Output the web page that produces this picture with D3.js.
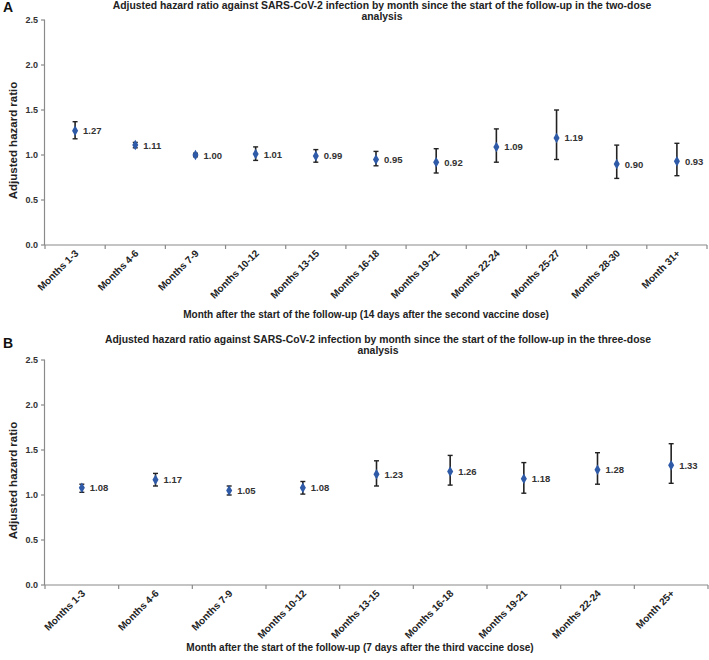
<!DOCTYPE html>
<html><head><meta charset="utf-8">
<script src="https://cdn.jsdelivr.net/npm/d3@7/dist/d3.min.js"></script>
<style>body{margin:0;background:#fff}svg{display:block}text{font-family:"Liberation Sans",Arial,sans-serif}</style>
</head><body>
<svg id="c" width="709" height="660"></svg>
<script>
// Panel A data (two-dose analysis)
const catsA = ["Months 1-3","Months 4-6","Months 7-9","Months 10-12","Months 13-15","Months 16-18","Months 19-21","Months 22-24","Months 25-27","Months 28-30","Month 31+"];
const hrA   = [1.27,1.11,1.00,1.01,0.99,0.95,0.92,1.09,1.19,0.90,0.93];
const loA   = [1.18,1.08,0.98,0.94,0.92,0.88,0.80,0.92,0.95,0.74,0.77];
const hiA   = [1.37,1.14,1.02,1.09,1.06,1.04,1.07,1.29,1.50,1.11,1.13];
// Panel B data (three-dose analysis)
const catsB = ["Months 1-3","Months 4-6","Months 7-9","Months 10-12","Months 13-15","Months 16-18","Months 19-21","Months 22-24","Month 25+"];
const hrB   = [1.08,1.17,1.05,1.08,1.23,1.26,1.18,1.28,1.33];
const loB   = [1.03,1.10,1.00,1.01,1.10,1.11,1.02,1.12,1.13];
const hiB   = [1.12,1.24,1.10,1.15,1.38,1.44,1.36,1.47,1.57];
const yTicks = [0,0.5,1.0,1.5,2.0,2.5];

const svg = d3.select("#c");

function panel(opt){
  const {letter, title1, title2, xTitle, cats, hr, lo, hi, top, left, right, bottom, titleY, letterY, xTitleY, titleX, xTitleX} = opt;
  const g = svg.append("g");
  const x = d3.scaleBand().domain(cats).range([left,right]).padding(0);
  const y = d3.scaleLinear().domain([0,2.5]).range([bottom,top]);
  const axisCol = "#8a8a8a";

  g.append("text").attr("x",3).attr("y",letterY).attr("font-size",14).attr("font-weight","bold").attr("fill","#111").text(letter);
  g.append("text").attr("x",titleX).attr("y",titleY).attr("text-anchor","middle").attr("font-size",10.4).attr("font-weight","bold").attr("fill","#222").text(title1);
  g.append("text").attr("x",titleX).attr("y",titleY+11).attr("text-anchor","middle").attr("font-size",10.4).attr("font-weight","bold").attr("fill","#222").text(title2);

  // y axis
  g.append("line").attr("x1",left-0.5).attr("x2",left-0.5).attr("y1",y(2.5)).attr("y2",y(0)).attr("stroke",axisCol).attr("stroke-width",1.2);
  yTicks.forEach(t=>{
    g.append("line").attr("x1",left-4).attr("x2",left).attr("y1",y(t)).attr("y2",y(t)).attr("stroke",axisCol).attr("stroke-width",1.2);
    g.append("text").attr("x",left-7).attr("y",y(t)+3).attr("text-anchor","end").attr("font-size",9).attr("font-weight","bold").attr("fill","#333").text(t.toFixed(1));
  });
  g.append("text").attr("transform",`translate(17,${(y(0)+y(2.5))/2+8}) rotate(-90)`).attr("text-anchor","middle").attr("font-size",11.5).attr("font-weight","bold").attr("fill","#222").text("Adjusted hazard ratio");

  // x axis
  g.append("line").attr("x1",left).attr("x2",right).attr("y1",y(0)).attr("y2",y(0)).attr("stroke",axisCol).attr("stroke-width",1.2);
  const bounds = cats.map(c=>x(c)).concat([x.range()[1]]);
  bounds.forEach(b=>{
    g.append("line").attr("x1",b).attr("x2",b).attr("y1",y(0)).attr("y2",y(0)+4).attr("stroke",axisCol).attr("stroke-width",1.2);
  });
  cats.forEach(c=>{
    const cx = x(c)+x.bandwidth()/2;
    g.append("text").attr("transform",`translate(${cx+4},${y(0)+9}) rotate(-45)`).attr("text-anchor","end").attr("font-size",10).attr("font-weight","bold").attr("fill","#222").text(c);
  });
  g.append("text").attr("x",xTitleX).attr("y",xTitleY).attr("text-anchor","middle").attr("font-size",10).attr("font-weight","bold").attr("fill","#222").text(xTitle);

  // error bars + markers
  cats.forEach((c,i)=>{
    const cx = x(c)+x.bandwidth()/2;
    g.append("line").attr("x1",cx).attr("x2",cx).attr("y1",y(lo[i])).attr("y2",y(hi[i])).attr("stroke","#222").attr("stroke-width",1.6);
    [lo[i],hi[i]].forEach(v=>g.append("line").attr("x1",cx-2.5).attr("x2",cx+2.5).attr("y1",y(v)).attr("y2",y(v)).attr("stroke","#222").attr("stroke-width",1.4));
    g.append("path").attr("d",d3.symbol(d3.symbolDiamond,32)()).attr("transform",`translate(${cx},${y(hr[i])})`).attr("fill","#2E5AA8");
    g.append("text").attr("x",cx+8).attr("y",y(hr[i])+3.5).attr("font-size",9.5).attr("font-weight","bold").attr("fill","#333").text(hr[i].toFixed(2));
  });
}

panel({letter:"A",
  title1:"Adjusted hazard ratio against SARS-CoV-2 infection by month since the start of the follow-up in the two-dose",
  title2:"analysis",
  xTitle:"Month after the start of the follow-up (14 days after the second vaccine dose)",
  cats:catsA, hr:hrA, lo:loA, hi:hiA, top:20, bottom:245, left:45, right:707,
  titleY:9, letterY:12, xTitleY:318, titleX:382, xTitleX:366});
panel({letter:"B",
  title1:"Adjusted hazard ratio against SARS-CoV-2 infection by month since the start of the follow-up in the three-dose",
  title2:"analysis",
  xTitle:"Month after the start of the follow-up (7 days after the third vaccine dose)",
  cats:catsB, hr:hrB, lo:loB, hi:hiB, top:360, bottom:585, left:45, right:708,
  titleY:343, letterY:348, xTitleY:651, titleX:378, xTitleX:360});
</script>
</body></html>
